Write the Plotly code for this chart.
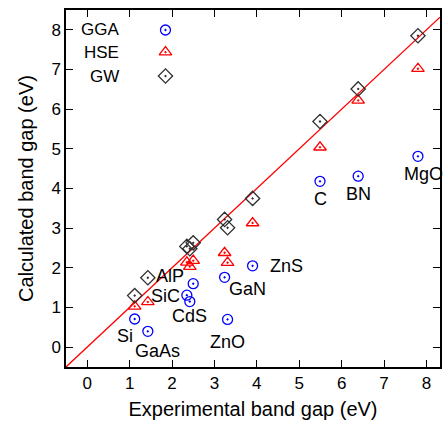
import plotly.graph_objects as go

materials = ["Si", "GaAs", "SiC", "CdS", "AlP", "GaN", "ZnO", "ZnS", "C", "BN", "MgO"]
experimental = [1.12, 1.43, 2.35, 2.42, 2.50, 3.24, 3.31, 3.90, 5.49, 6.39, 7.80]
gga = [0.71, 0.40, 1.31, 1.15, 1.60, 1.76, 0.70, 2.05, 4.18, 4.31, 4.81]
hse = [1.03, 1.14, 2.14, 2.03, 2.18, 2.38, 2.13, 3.13, 5.04, 6.22, 7.02]
gw = [1.30, 1.75, 2.54, 2.48, 2.63, 3.22, 3.01, 3.75, 5.69, 6.51, 7.85]

# label anchor positions (data coords) for the GGA points
label_x = [0.88, 1.65, 1.85, 2.42, 1.95, 3.77, 3.31, 4.70, 5.49, 6.39, 7.92]
label_y = [0.27, -0.1, 1.28, 0.78, 1.79, 1.47, 0.14, 2.04, 3.74, 3.86, 4.37]

x_range = [-0.5, 8.32]
y_range = [-0.5, 8.5]
ticks = list(range(0, 9))

series = [
    ("GGA", gga, "circle-open-dot", "#0000ff", 10),
    ("HSE", hse, "triangle-up-open-dot", "#ff0000", 11),
    ("GW", gw, "diamond-open-dot", "#303030", 11),
]

font = "Liberation Sans, Arial, sans-serif"
fig = go.Figure()

fig.add_trace(go.Scatter(x=x_range, y=x_range, mode="lines",
                         line=dict(color="#ff0000", width=1.3),
                         showlegend=False, hoverinfo="skip", cliponaxis=True))

for name, vals, sym, col, sz in series:
    fig.add_trace(go.Scatter(x=experimental, y=vals, mode="markers", name=name,
                             marker=dict(symbol=sym, size=sz, color=col,
                                         line=dict(color=col, width=1.3)),
                             showlegend=False))

# gnuplot-style key: text then marker
key_y = [0.944, 0.882, 0.815]
key_x = 0.266
for (name, vals, sym, col, sz), ky in zip(series, key_y):
    fig.add_trace(go.Scatter(x=[key_x], y=[ky], mode="markers", xaxis="x2", yaxis="y2",
                             marker=dict(symbol=sym, size=sz, color=col,
                                         line=dict(color=col, width=1.3)),
                             showlegend=False, hoverinfo="skip"))
    fig.add_annotation(x=0.147, y=ky, xref="paper", yref="paper", text=name,
                       showarrow=False, xanchor="right", yanchor="middle",
                       font=dict(family=font, size=17, color="black"))

for m, lx, ly in zip(materials, label_x, label_y):
    fig.add_annotation(x=lx, y=ly, text=m, showarrow=False, xanchor="center",
                       yanchor="middle", font=dict(family=font, size=18, color="black"))

axis_common = dict(showline=True, linecolor="black", linewidth=1.5, mirror="allticks",
                   ticks="inside", ticklen=7, tickwidth=1.2, tickcolor="black",
                   showgrid=False, zeroline=False,
                   tickfont=dict(family=font, size=17, color="black"))

fig.update_layout(
    width=443, height=430,
    margin=dict(l=66, r=1, t=10, b=63),
    plot_bgcolor="white", paper_bgcolor="white",
    xaxis=dict(range=x_range, tickvals=ticks,
               title=dict(text="Experimental band gap (eV)", standoff=10,
                          font=dict(family=font, size=20, color="black")),
               **axis_common),
    yaxis=dict(range=y_range, tickvals=ticks,
               title=dict(text="Calculated band gap (eV)", standoff=12,
                          font=dict(family=font, size=20, color="black")),
               **axis_common),
    xaxis2=dict(range=[0, 1], overlaying="x", visible=False),
    yaxis2=dict(range=[0, 1], overlaying="y", visible=False),
    showlegend=False,
)

fig.write_html("out.html")
